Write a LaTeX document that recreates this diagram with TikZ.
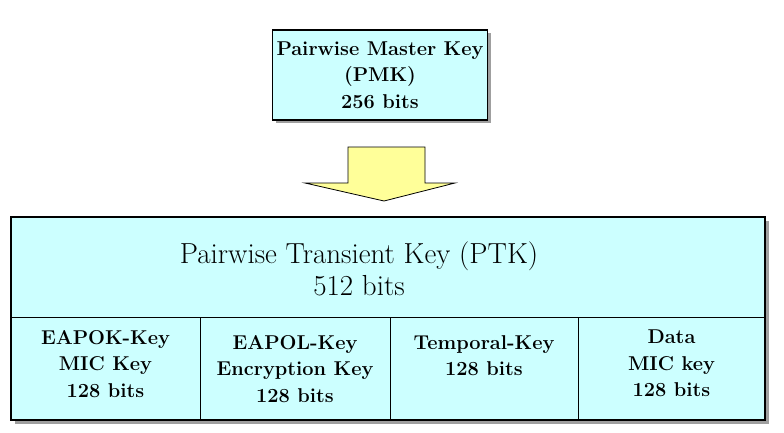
\documentclass[tikz,border=0pt]{standalone}
\usepackage{fontspec}
\usetikzlibrary{shadows}
\definecolor{cyanpale}{HTML}{CCFFFF}
\definecolor{jaunepale}{HTML}{FFFF99}
\begin{document}
\begin{tikzpicture}[x=1pt,y=-1pt]
% Styles
\tikzstyle{cadre}=[line width=1pt]
\tikzstyle{boite}=[draw=black,line width=1.2pt,fill=cyanpale,drop shadow={shadow xshift=3.5pt,shadow yshift=-3.5pt,fill=gray!75,opacity=1}]
\tikzstyle{petit}=[font=\fontsize{20}{26.5}\selectfont\bfseries,align=center,inner sep=0pt]
\tikzstyle{grand}=[font=\fontsize{29}{31.5}\selectfont,align=center,inner sep=0pt]
\tikzstyle{fleche}=[draw=black,line width=0.8pt,fill=jaunepale]
% Bornes
\useasboundingbox (0,0) rectangle (784,433);
% Dimensions
\def\gauche{11}
\def\droite{765}
\def\ligne{317}
\def\bas{420}
% Clé maîtresse : PMK
\node[boite,petit,minimum width=215pt,minimum height=90pt] (pmk) at (380,75) {Pairwise Master Key\\(PMK)\\256 bits};
% Flèche
\draw[fleche] (348,147) -- (425,147) -- (425,183) -- (455,183) -- (384,201) -- (305,183) -- (348,183) -- cycle;
% Clé transitoire : PTK
\node[boite,minimum width=754pt,minimum height=203pt] (ptk) at (388,318.5) {};
\node[grand] (titre) at (359,269) {Pairwise Transient Key (PTK)\\512 bits};
% Encadrement
\draw[cadre] (\gauche,\ligne) -- (\droite,\ligne);
\foreach \x in {200,390,578}
  \draw[cadre] (\x,\ligne) -- (\x,\bas);
% Sous-clés
\node[petit,anchor=north] (eapok) at (105.5,330) {EAPOK-Key\\MIC Key\\128 bits};
\node[petit,anchor=north] (eapol) at (295,335) {EAPOL-Key\\Encryption Key\\128 bits};
\node[petit,anchor=north] (temporal) at (484,335) {Temporal-Key\\128 bits};
\node[petit,anchor=north] (datamic) at (671.5,330) {Data\\MIC key\\128 bits};
\end{tikzpicture}
\end{document}
